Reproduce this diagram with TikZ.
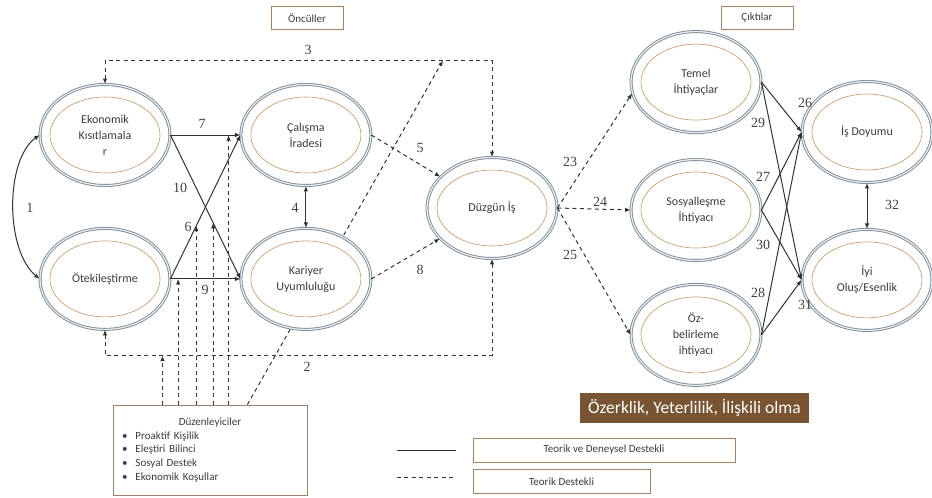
\documentclass[tikz,border=0pt]{standalone}
\usepackage{fontspec}
\setmainfont{Carlito}
\newfontfamily\numfont{Liberation Serif}
\usetikzlibrary{positioning, arrows.meta, backgrounds, shapes.geometric}
\definecolor{ringgray}{RGB}{128,138,146}
\definecolor{ringfill}{RGB}{232,240,246}
\definecolor{innerbrown}{RGB}{196,150,100}
\definecolor{boxbrown}{RGB}{165,130,100}
\definecolor{darkbrown}{RGB}{120,84,50}
\definecolor{txtgray}{RGB}{60,60,60}
\definecolor{linegray}{RGB}{50,50,50}
\tikzset{
  latent/.style={ellipse, draw=ringgray, line width=0.9pt, double=ringfill, double distance=1.2pt, fill=white,
    minimum width=130pt, minimum height=101pt, inner sep=0pt, align=center, text=txtgray,
    font=\fontsize{12}{16}\selectfont,
    path picture={\draw[innerbrown, line width=0.6pt] (path picture bounding box.center) ellipse [x radius=55pt, y radius=38pt];}},
  tag/.style={draw=boxbrown, line width=0.8pt, minimum width=72pt, minimum height=23pt, inner sep=2pt,
    font=\fontsize{11}{13}\selectfont, text=txtgray},
  legbox/.style={tag, minimum height=24pt},
  modbox/.style={draw=boxbrown!80!gray, line width=0.8pt, minimum width=194pt, minimum height=90pt, text width=180pt,
    inner sep=7pt, align=left, font=\fontsize{11}{13.8}\selectfont, text=txtgray},
  num/.style={font=\numfont\fontsize{14}{16}\selectfont, text=gray!50!black, inner sep=0pt},
  flow/.style={-{Latex[length=5.5pt,width=4.5pt]}, line width=1pt, draw=linegray},
  biflow/.style={flow, {Latex[length=5.5pt,width=4.5pt]}-{Latex[length=5.5pt,width=4.5pt]}},
  dflow/.style={flow, dash pattern=on 4pt off 3.5pt, line width=1pt},
  dboth/.style={dflow, {Latex[length=5.5pt,width=4.5pt]}-{Latex[length=5.5pt,width=4.5pt]}},
}
\begin{document}
\begin{tikzpicture}[x=1pt, y=-1pt]
  \useasboundingbox (0,0) rectangle (932,498);
  % headings
  \node[tag] (onc) at (307,18) {Öncüller};
  \node[tag] (cik) at (757,18) {Çıktılar};
  % antecedents
  \node[latent] (eko) at (105,135) {Ekonomik\\Kısıtlamala\\r};
  \node[latent, right=70pt of eko] (cal) {Çalışma\\İradesi};
  \node[latent, below=42pt of cal] (kar) {Kariyer\\Uyumluluğu};
  \node[latent, left=70pt of kar] (ote) {Ötekileştirme};
  \node[latent] (duz) at (492,208) {Düzgün İş};
  % outcomes
  \node[latent] (sos) at (696,210) {Sosyalleşme\\İhtiyacı};
  \node[latent, above=26pt of sos] (tem) {Temel\\İhtiyaçlar};
  \node[latent, below=23pt of sos] (ozb) {Öz-\\belirleme\\ihtiyacı};
  \node[latent] (isd) at (867,132) {İş Doyumu};
  \node[latent, below=46pt of isd] (iyi) {İyi\\Oluş/Esenlik};
  % moderators, needs, legend
  \node[modbox] (mod) at (210,450) {\makebox[180pt]{Düzenleyiciler}\\
    \hspace*{2pt}\textbullet\hspace{8pt}Proaktif Kişilik\\
    \hspace*{2pt}\textbullet\hspace{8pt}Eleştiri Bilinci\\
    \hspace*{2pt}\textbullet\hspace{8pt}Sosyal Destek\\
    \hspace*{2pt}\textbullet\hspace{8pt}Ekonomik Koşullar};
  \node[fill=darkbrown, text=white, font=\fontsize{17.5}{20}\selectfont, minimum width=229pt, minimum height=30pt, inner sep=0pt] (ozk) at (694.5,408) {Özerklik, Yeterlilik, İlişkili olma};
  \node[legbox, minimum width=262pt] (leg1) at (604,450) {Teorik ve Deneysel Destekli};
  \node[legbox, minimum width=177pt, anchor=north west] (leg2) at ([yshift=-7pt]leg1.south west) {Teorik Destekli};
  \draw[line width=1pt, linegray] ([xshift=-76pt]leg1.west) -- ([xshift=-17pt]leg1.west);
  \draw[line width=1pt, dash pattern=on 4pt off 3.5pt, linegray] ([xshift=-76pt,yshift=4pt]leg2.west) -- ([xshift=-17pt,yshift=4pt]leg2.west);
  % paths
  \foreach \a/\b in {eko/cal, eko/kar, ote/cal, ote/kar} \draw[flow] (\a.east) -- (\b.west);
  \draw[biflow] (cal.south) -- (kar.north);
  \draw[biflow] (eko.west) .. controls (5,160) and (5,250) .. (ote.west);
  \draw[dflow] (cal.east) -- (duz);
  \draw[dflow] (kar.east) -- (duz);
  \coordinate (l3) at (300,60.5);
  \coordinate (l2) at (300,355.5);
  \draw[dboth] (eko.north) |- (l3) -| (duz.north);
  \draw[dboth] (ote.south) |- (l2) -| (duz.south);
  \foreach \b in {tem.190, sos.west, ozb.west} \draw[dflow] (duz.east) -- (\b);
  \foreach \a in {tem, sos, ozb} {
    \draw[flow] (\a.east) -- (isd.west);
    \draw[flow] (\a.east) -- (iyi.west);
  }
  \draw[biflow] (isd.south) -- (iyi.north);
  % moderator arrows
  \path (ote.east) -- (cal.west) coordinate[pos=0.37] (m6);
  \path (eko.east) -- (kar.west) coordinate[pos=0.61] (m10);
  \path (eko.east) -- (cal.west) coordinate[pos=0.83] (m7);
  \path (ote.east) -- (kar.west) coordinate[pos=0.11] (m9);
  \coordinate (m2) at (162.5,355.5);
  \coordinate (m3) at (443,60.5);
  \foreach \c in {m2, m9, m6, m10, m7} \draw[dflow] (\c |- mod.north) -- (\c);
  \begin{scope}[on background layer]
    \draw[dflow] ([xshift=-60pt]mod.north east) -- (m3);
  \end{scope}
  % path numbers
  \foreach \t/\x/\y in {1/30/208, 2/307/367, 3/308/50, 4/295/208, 5/420/148, 6/188/227, 7/202/124, 8/420/270,
      9/205/290, 10/180/188, 23/570/162, 24/600/202, 25/570/255, 26/805/103, 27/763/177, 28/758/293,
      29/758/123, 30/763/245, 31/805/305, 32/892/205}
    \node[num] (n\t) at (\x,\y) {\t};
\end{tikzpicture}
\end{document}
